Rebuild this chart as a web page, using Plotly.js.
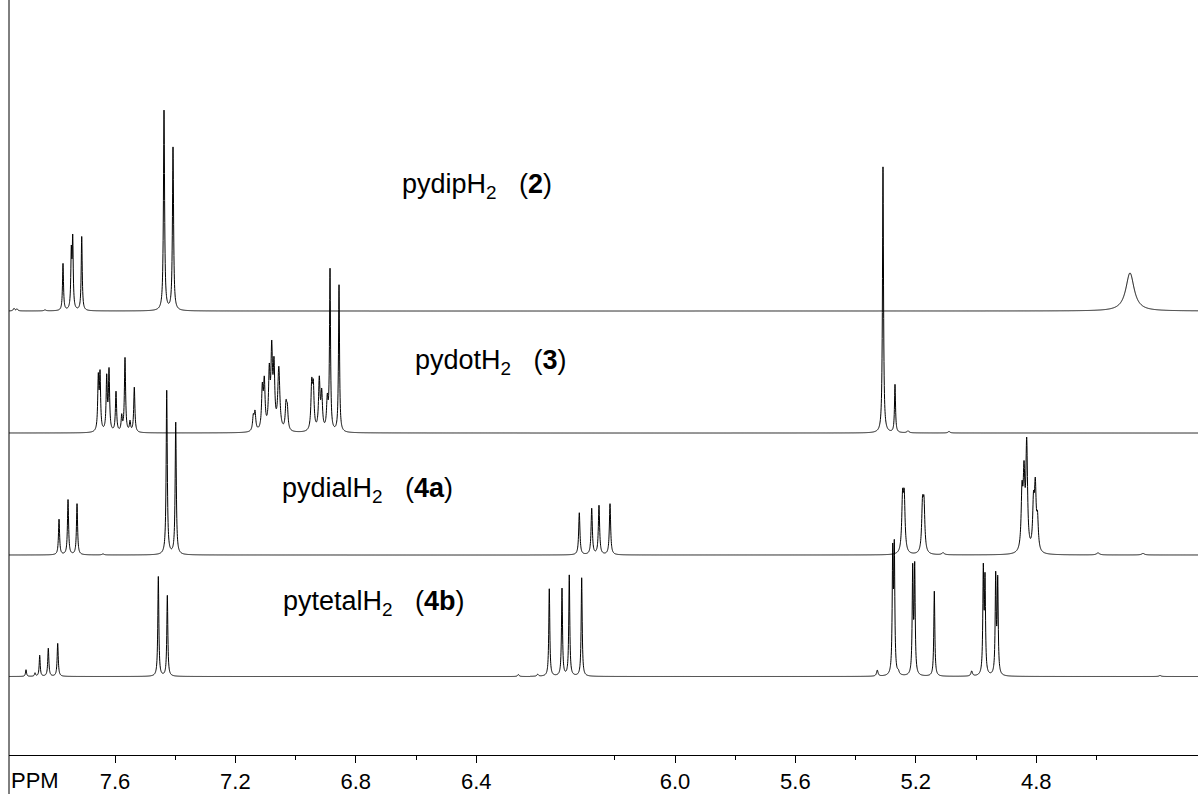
<!DOCTYPE html>
<html><head><meta charset="utf-8">
<script src="https://cdn.plot.ly/plotly-3.0.1.min.js"></script>
<style>html,body{margin:0;padding:0;background:#fff}</style>
</head><body><div id="chart" style="width:1198px;height:794px"></div>
<script>
// ---- Data: peak tables (ppm, intensity, half-width, axis segment) ----
// segment 0 = left part of the axis (7.6 ... 6.4 labels), segment 1 = right part (6.0 ... 4.8 labels)
const pydipH2_ppm = [7.9355, 7.9256, 7.8326, 7.7728, 7.7452, 7.7405, 7.7106, 7.4372, 7.4073, 4.4884];
const pydipH2_int = [2.5, 2, 1, 47, 55, 68, 74, 200, 163, 38];
const pydipH2_hw  = [0.003, 0.003, 0.004, 0.002, 0.002, 0.002, 0.002, 0.0022, 0.0022, 0.0166];
const pydipH2_seg = [0, 0, 0, 0, 0, 0, 0, 0, 0, 1];

const pydotH2_ppm = [7.6555, 7.6498, 7.6276, 7.6199, 7.5967, 7.5777, 7.5668, 7.5502, 7.5359,
  7.1405, 7.1349, 7.1106, 7.1040, 7.0874, 7.0794, 7.0718, 7.0558, 7.0319, 7.0276,
  6.9465, 6.9412, 6.9213, 6.9133, 6.8947, 6.8857, 6.8558,
  5.3090, 5.2691, 5.2259, 5.0897];
const pydotH2_int = [52, 55, 53, 60, 40, 15, 74, 10, 45,
  14, 18, 40, 46, 55, 75, 60, 62, 24, 20,
  44, 41, 50, 36, 30, 160, 147,
  266, 48, 2, 1.5];
const pydotH2_hw  = [0.0023, 0.0023, 0.0023, 0.0023, 0.0023, 0.0023, 0.0023, 0.0023, 0.0023,
  0.003, 0.003, 0.003, 0.003, 0.003, 0.003, 0.003, 0.004, 0.003, 0.003,
  0.003, 0.003, 0.003, 0.003, 0.003, 0.002, 0.002,
  0.002, 0.002, 0.004, 0.004];
const pydotH2_seg = [0,0,0,0,0,0,0,0,0, 0,0,0,0,0,0,0,0,0,0, 0,0,0,0,0,0,0, 1,1,1,1];

const pydialH2_ppm = [7.7860, 7.7561, 7.7262, 7.6399, 7.4282, 7.3983,
  6.3179, 6.2767, 6.2525, 6.2159, 5.2439, 5.2385, 5.1777, 5.1728, 5.1096,
  4.8472, 4.8405, 4.8316, 4.8090, 4.8030, 4.7957, 4.5947, 4.4452];
const pydialH2_int = [35.5, 55, 51, 1, 164, 132,
  42, 46, 49, 51, 52, 52, 45, 45, 2,
  55, 70, 105, 45, 60, 30, 2, 1.5];
const pydialH2_hw  = [0.0022, 0.0022, 0.0022, 0.004, 0.0022, 0.0022,
  0.0025, 0.0025, 0.0025, 0.0025, 0.0033, 0.0033, 0.0033, 0.0033, 0.005,
  0.0033, 0.0033, 0.0033, 0.0033, 0.0033, 0.0033, 0.006, 0.006];
const pydialH2_seg = [0,0,0,0,0,0, 1,1,1,1,1,1,1,1,1, 1,1,1,1,1,1,1,1];

const pytetalH2_ppm = [7.8957, 7.8658, 7.8502, 7.8216, 7.7904, 7.4561, 7.4262, 6.2601,
  6.4561, 6.4176, 6.3754, 6.3512, 6.3100, 5.3279, 5.2767, 5.2714, 5.2581,
  5.2103, 5.2037, 5.1385, 5.0143, 4.9757, 4.9701, 4.9346, 4.9279, 4.3887];
const pytetalH2_int = [6.7, 3.3, 21, 28, 33, 99.7, 80.7, 2,
  2, 87.4, 87.4, 100.7, 98.4, 6, 118, 122, 3,
  104, 106, 85, 5, 102.5, 91.9, 97.2, 92.9, 1];
const pytetalH2_hw  = [0.002, 0.002, 0.002, 0.0022, 0.0022, 0.002, 0.002, 0.003,
  0.003, 0.002, 0.002, 0.002, 0.002, 0.003, 0.002, 0.002, 0.003,
  0.002, 0.002, 0.002, 0.003, 0.002, 0.002, 0.002, 0.002, 0.004];
const pytetalH2_seg = [0,0,0,0,0,0,0,0, 1,1,1,1,1,1,1,1,1, 1,1,1,1,1,1,1,1,1];

const spectrumLabels = ['pydipH<sub>2</sub>\u00a0\u00a0\u00a0(<b>2</b>)',
  'pydotH<sub>2</sub>\u00a0\u00a0\u00a0(<b>3</b>)',
  'pydialH<sub>2</sub>\u00a0\u00a0\u00a0(<b>4a</b>)',
  'pytetalH<sub>2</sub>\u00a0\u00a0\u00a0(<b>4b</b>)'];

const leftTickVals = [7.6, 7.2, 6.8, 6.4];
const leftTickText = ['7.6', '7.2', '6.8', '6.4'];
const leftMinor = [7.4, 7.0, 6.6];
const rightTickVals = [6.0, 5.6, 5.2, 4.8];
const rightTickText = ['6.0', '5.6', '5.2', '4.8'];
const rightMinor = [6.2, 5.8, 5.4, 5.0, 4.6];

// ---- Presentation ----
const segmentAxes = [
  {axis: 'x', range: [7.9522, 6.2213]},
  {axis: 'x2', range: [6.4817, 4.2625]}
];
const stackOffset = [444, 322, 200, 78.5];      // vertical stacking of the spectra
const labelPos = [[0.3289, 0.7536], [0.3398, 0.5205], [0.2279, 0.3510], [0.2288, 0.2013]];

const spectra = [
  {ppm: pydipH2_ppm, int: pydipH2_int, hw: pydipH2_hw, seg: pydipH2_seg},
  {ppm: pydotH2_ppm, int: pydotH2_int, hw: pydotH2_hw, seg: pydotH2_seg},
  {ppm: pydialH2_ppm, int: pydialH2_int, hw: pydialH2_hw, seg: pydialH2_seg},
  {ppm: pytetalH2_ppm, int: pytetalH2_int, hw: pytetalH2_hw, seg: pytetalH2_seg}
];

const traces = [];
spectra.forEach((s, k) => {
  segmentAxes.forEach((sa, si) => {
    const idx = [];
    s.ppm.forEach((p, i) => { if (s.seg[i] === si) idx.push(i); });
    const hi = sa.range[0], lo = sa.range[1];
    let xs = [];
    for (let v = hi; v >= lo; v -= 0.0005) xs.push(v);
    xs.push(lo);
    idx.forEach(i => xs.push(s.ppm[i]));
    xs.sort((a, b) => b - a);
    const ys = xs.map(x => {
      let sum = 0;
      idx.forEach(i => { const d = (x - s.ppm[i]) / s.hw[i]; sum += s.int[i] / (1 + d * d); });
      return stackOffset[k] + sum;
    });
    traces.push({x: xs, y: ys, xaxis: sa.axis, yaxis: 'y', type: 'scatter', mode: 'lines',
      line: {color: '#000', width: 1, simplify: false}, hoverinfo: 'skip', showlegend: false});
  });
});

const tickFont = {family: 'Liberation Sans, Arial, sans-serif', size: 22, color: '#000'};
function xAxis(domain, range, tv, tt, minor) {
  return {domain: domain, range: range, anchor: 'y', showline: true, linecolor: '#000', linewidth: 1,
    ticks: 'outside', ticklen: 7, tickwidth: 1, tickcolor: '#000',
    tickmode: 'array', tickvals: tv, ticktext: tt, tickfont: tickFont,
    minor: {tickmode: 'array', tickvals: minor, ticks: 'outside', ticklen: 4, tickwidth: 1, tickcolor: '#000', showgrid: false},
    showgrid: false, zeroline: false, fixedrange: true};
}
const brk = (530 - 9) / 1189;
const annotations = spectrumLabels.map((t, i) => ({
  text: t, xref: 'paper', yref: 'paper', x: labelPos[i][0], y: labelPos[i][1],
  xanchor: 'left', yanchor: 'middle', showarrow: false,
  font: {family: 'Liberation Sans, Arial, sans-serif', size: 27, color: '#000'}
}));
annotations.push({text: 'PPM', xref: 'paper', yref: 'paper', x: 0.0, y: -0.0335,
  xanchor: 'left', yanchor: 'middle', showarrow: false, font: tickFont});

const layout = {
  width: 1198, height: 794, margin: {l: 9, r: 0, t: 0, b: 39},
  paper_bgcolor: '#fff', plot_bgcolor: '#fff', showlegend: false,
  xaxis: xAxis([0, brk], segmentAxes[0].range, leftTickVals, leftTickText, leftMinor),
  xaxis2: xAxis([brk, 1], segmentAxes[1].range, rightTickVals, rightTickText, rightMinor),
  yaxis: {range: [0, 755], visible: false, fixedrange: true},
  annotations: annotations,
  shapes: [{type: 'line', xref: 'paper', yref: 'paper', x0: 0, x1: 0, y0: -39 / 755, y1: 1,
    line: {color: '#000', width: 1}}]
};
Plotly.newPlot('chart', traces, layout, {displayModeBar: false, staticPlot: true});
</script></body></html>
